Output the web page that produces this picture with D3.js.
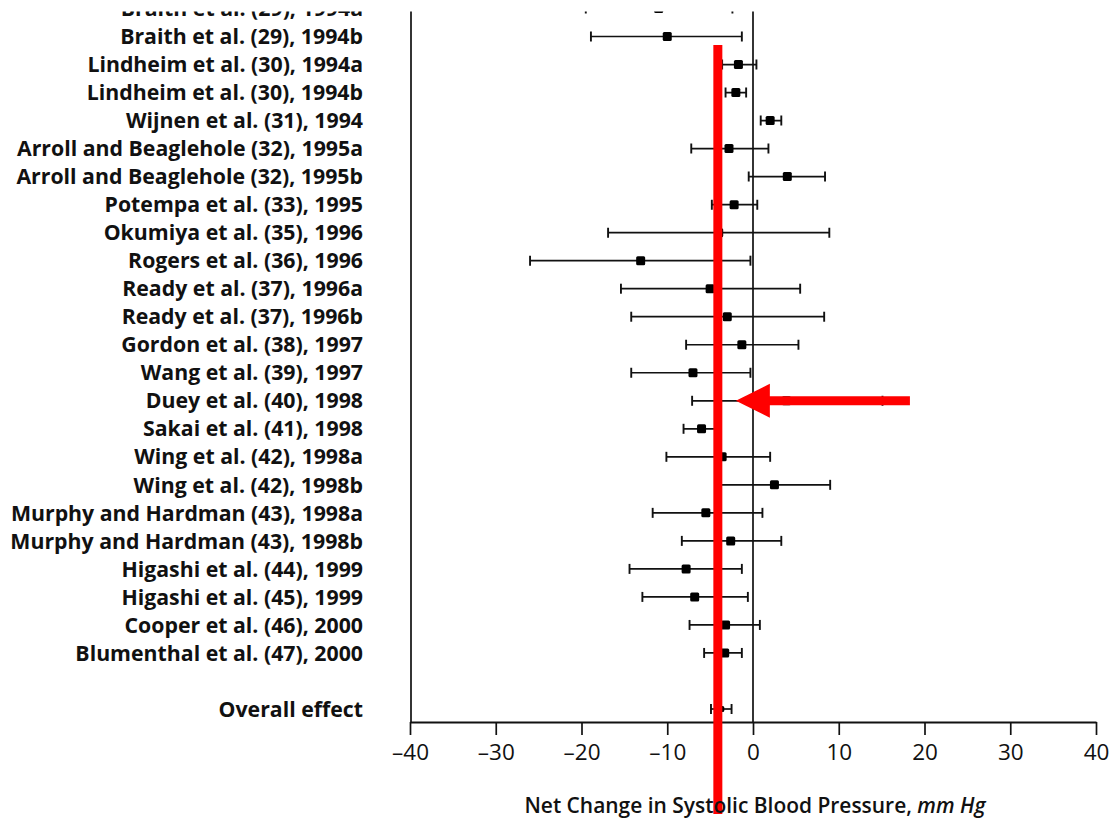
<!DOCTYPE html>
<html><head><meta charset="utf-8">
<script src="https://cdn.jsdelivr.net/npm/d3@7"></script>
<style>
html,body{margin:0;padding:0;background:#fff;overflow:hidden}
svg{display:block}
</style></head>
<body>
<script>
const studies = [
 "Braith et al. (29), 1994a","Braith et al. (29), 1994b","Lindheim et al. (30), 1994a","Lindheim et al. (30), 1994b",
 "Wijnen et al. (31), 1994","Arroll and Beaglehole (32), 1995a","Arroll and Beaglehole (32), 1995b","Potempa et al. (33), 1995",
 "Okumiya et al. (35), 1996","Rogers et al. (36), 1996","Ready et al. (37), 1996a","Ready et al. (37), 1996b",
 "Gordon et al. (38), 1997","Wang et al. (39), 1997","Duey et al. (40), 1998","Sakai et al. (41), 1998",
 "Wing et al. (42), 1998a","Wing et al. (42), 1998b","Murphy and Hardman (43), 1998a","Murphy and Hardman (43), 1998b",
 "Higashi et al. (44), 1999","Higashi et al. (45), 1999","Cooper et al. (46), 2000","Blumenthal et al. (47), 2000",
 "Overall effect"
];
const rowIndex = [0,1,2,3,4,5,6,7,8,9,10,11,12,13,14,15,16,17,18,19,20,21,22,23,25];
const estimate = [-11.0,-10.0,-1.7,-2.0,2.0,-2.8,4.0,-2.2,-4.0,-13.1,-5.0,-3.0,-1.3,-7.0,3.9,-6.0,-3.6,2.5,-5.5,-2.6,-7.8,-6.8,-3.2,-3.3,-3.7];
const lower    = [-19.5,-18.9,-3.6,-3.2,0.9,-7.2,-0.5,-4.8,-16.9,-26.0,-15.4,-14.2,-7.8,-14.2,-7.1,-8.1,-10.1,-4.0,-11.7,-8.3,-14.4,-12.9,-7.4,-5.7,-4.9];
const upper    = [-2.4,-1.3,0.4,-0.8,3.3,1.8,8.4,0.5,8.9,-0.3,5.5,8.3,5.3,-0.3,15.1,-4.3,2.0,9.0,1.1,3.3,-1.3,-0.6,0.8,-1.3,-2.5];
const xTicks = [-40,-30,-20,-10,0,10,20,30,40];
const xTitle = "Net Change in Systolic Blood Pressure, ";
const xTitleUnit = "mm Hg";
// red annotations
const refLineValue = -4.1;
const arrowFrom = 18.3, arrowTo = -2.0, arrowRow = 14;

const W = 1113, H = 820;
const svg = d3.select("body").append("svg").attr("width", W).attr("height", H);

// the source picture is cropped just above its first row
svg.append("defs").append("clipPath").attr("id", "crop")
  .append("rect").attr("x", 0).attr("y", 11.5).attr("width", W).attr("height", H);
const root = svg.append("g").attr("clip-path", "url(#crop)");

const x = d3.scaleLinear().domain([-40, 40]).range([410, 1096]);
const y = d3.scaleLinear().domain([0, 25]).range([8.5, 709]);
const axisY = 722;

const font = "'Open Sans', 'Noto Sans', sans-serif";

function fitSize(str, weight, style, target, base) {
  const tmp = svg.append("text").attr("font-family", font).attr("font-size", base)
    .attr("font-weight", weight).attr("font-style", style).text(str);
  const w = tmp.node().getComputedTextLength();
  tmp.remove();
  return base * target / w;
}
const labelSize = fitSize("Braith et al. (29), 1994b", 700, "normal", 243, 18);
const tickSize = fitSize("\u201340", 400, "normal", 37, 18);
const titleSize = fitSize("Net Change in Systolic Blood Pressure, mm Hg", 600, "normal", 466, 18);

// frame lines
root.append("line").attr("x1", 411).attr("x2", 411).attr("y1", 0).attr("y2", axisY)
  .attr("stroke", "#111").attr("stroke-width", 1.7);
root.append("line").attr("x1", x(0)).attr("x2", x(0)).attr("y1", 0).attr("y2", axisY)
  .attr("stroke", "#111").attr("stroke-width", 1.7);

// axis
const ax = root.append("g").attr("transform", `translate(0,${axisY})`)
  .call(d3.axisBottom(x).tickValues(xTicks).tickSize(13).tickSizeOuter(0)
    .tickFormat(d => d < 0 ? "\u2013" + (-d) : String(d)));
ax.select(".domain").attr("stroke", "#111").attr("stroke-width", 1.8);
ax.selectAll(".tick line").attr("stroke", "#111").attr("stroke-width", 1.7);
ax.selectAll(".tick text").attr("font-family", font).attr("font-size", tickSize)
  .attr("fill", "#111").attr("y", 30).attr("dy", "0.36em");

// labels
root.append("g").selectAll("text").data(studies).join("text")
  .attr("x", 363).attr("y", (d, i) => y(rowIndex[i]))
  .attr("dy", "0.36em").attr("text-anchor", "end")
  .attr("font-family", font).attr("font-size", labelSize).attr("font-weight", 700).attr("fill", "#111")
  .text(d => d);

// error bars
const g = root.append("g").selectAll("g").data(studies).join("g")
  .attr("transform", (d, i) => `translate(0,${y(rowIndex[i])})`);
g.append("line").attr("x1", (d, i) => x(lower[i])).attr("x2", (d, i) => x(upper[i]))
  .attr("stroke", "#111").attr("stroke-width", 1.7);
g.append("line").attr("x1", (d, i) => x(lower[i])).attr("x2", (d, i) => x(lower[i]))
  .attr("y1", -5).attr("y2", 5).attr("stroke", "#111").attr("stroke-width", 1.9);
g.append("line").attr("x1", (d, i) => x(upper[i])).attr("x2", (d, i) => x(upper[i]))
  .attr("y1", -5).attr("y2", 5).attr("stroke", "#111").attr("stroke-width", 1.9);
g.append("rect")
  .attr("x", (d, i) => x(estimate[i]) - (i === 24 ? 3 : 4.5))
  .attr("y", (d, i) => i === 24 ? -3 : -4.5)
  .attr("width", (d, i) => i === 24 ? 6 : 9).attr("height", (d, i) => i === 24 ? 6 : 9)
  .attr("rx", 1.5).attr("fill", "#000");

// red annotations
root.append("line").attr("x1", x(refLineValue)).attr("x2", x(refLineValue))
  .attr("y1", 45).attr("y2", 814).attr("stroke", "#ff0000").attr("stroke-width", 9);
const ay = y(arrowRow);
const tip = x(arrowTo), base = tip + 34;
root.append("line").attr("x1", base - 2).attr("x2", x(arrowFrom)).attr("y1", ay).attr("y2", ay)
  .attr("stroke", "#ff0000").attr("stroke-width", 9);
root.append("path").attr("d", `M${tip},${ay} L${base},${ay - 17} L${base},${ay + 17} Z`).attr("fill", "#ff0000");

// title
const t = root.append("text").attr("x", 755).attr("y", 813).attr("text-anchor", "middle")
  .attr("font-family", font).attr("font-size", titleSize).attr("font-weight", 600).attr("fill", "#111");
t.append("tspan").text(xTitle);
t.append("tspan").attr("font-style", "italic").text(xTitleUnit);
</script>
</body></html>
